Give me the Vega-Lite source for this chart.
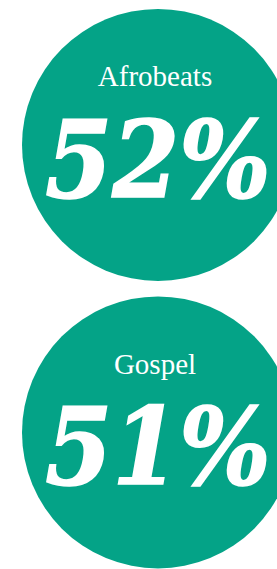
{
  "$schema": "https://vega.github.io/schema/vega-lite/v6.json",
  "width": 277,
  "height": 569,
  "padding": 0,
  "autosize": {"type": "none"},
  "background": "white",
  "config": {"view": {"stroke": null}},
  "data": {"values": [
    {"genre": "Afrobeats", "share": 0.52},
    {"genre": "Gospel", "share": 0.51}
  ]},
  "encoding": {
    "x": {"datum": 0, "type": "quantitative", "scale": {"domain": [-158, 119]}, "axis": null},
    "y": {"field": "genre", "type": "nominal", "scale": {"type": "point", "padding": 0.4896, "align": 0.515}, "axis": null}
  },
  "layer": [
    {"mark": {"type": "point", "shape": "circle", "filled": true, "size": 73984, "color": "#04a387", "opacity": 1, "strokeWidth": 0}},
    {"mark": {"type": "text", "font": "Liberation Serif", "fontSize": 29, "color": "white", "baseline": "alphabetic", "dy": -58.5, "dx": -3},
     "encoding": {"text": {"field": "genre"}}},
    {"mark": {"type": "text", "font": "'DejaVu Serif Condensed', 'DejaVu Serif', serif", "fontSize": 107, "fontWeight": 700, "fontStyle": "italic", "color": "white", "stroke": "white", "strokeWidth": 1.5, "baseline": "alphabetic", "dy": 52},
     "encoding": {"text": {"field": "share", "type": "quantitative", "format": ".0%"}}}
  ]
}
